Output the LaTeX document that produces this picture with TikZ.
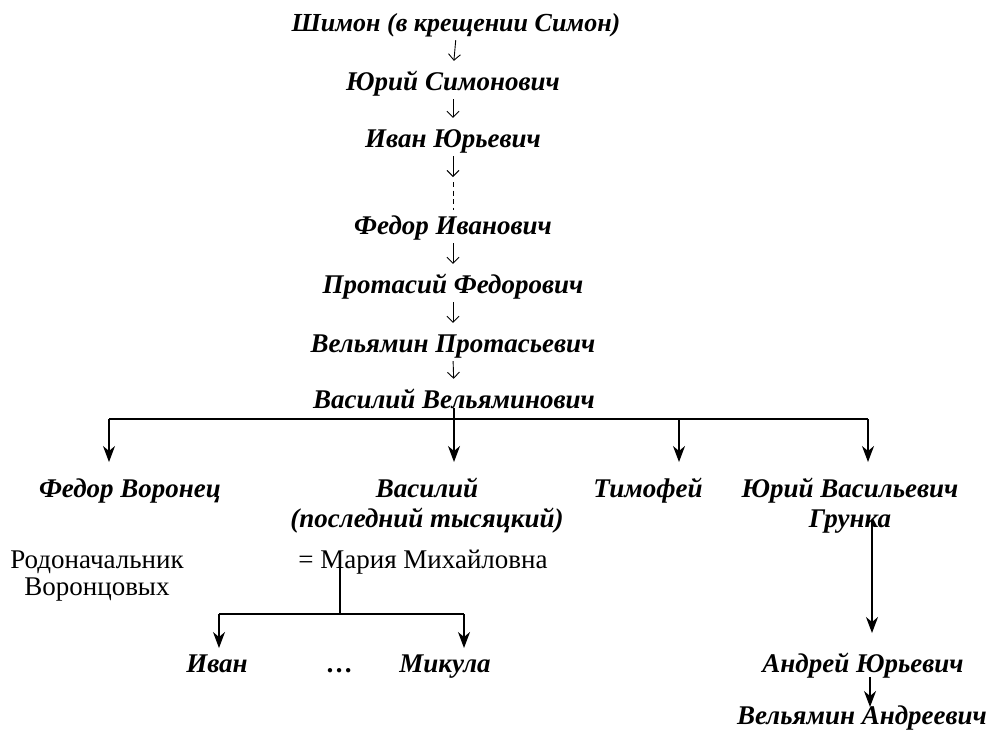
\documentclass[tikz,border=0pt]{standalone}
\usepackage{fontspec}
\setmainfont{Liberation Serif}
\usetikzlibrary{arrows.meta}
\newcommand\nmfont{\fontsize{27}{30}\selectfont\bfseries\itshape}
\newcommand\rgfont{\fontsize{27}{27}\selectfont}
\tikzset{
  person/.style={font=\nmfont, inner sep=0pt, text height=19pt, text depth=6pt, anchor=base},
  note/.style={font=\rgfont, inner sep=0pt, anchor=base},
  thinarr/.style={line width=0.9pt, -{Straight Barb[length=6pt,width=12pt,line width=0.9pt]}, shorten <=3pt, shorten >=10pt},
  bigarr/.style={line width=1.2pt, -{Stealth[length=16pt,width=12pt,inset=5pt]}},
  plain/.style={line width=1.2pt},
}
\begin{document}
\begin{tikzpicture}[x=1pt,y=-1pt]
\useasboundingbox (0,0) rectangle (990,729);
% main line
\node[person, font=\fontsize{26}{30}\selectfont\bfseries\itshape] (n1) at (456,31) {Шимон (в крещении Симон)};
\node[person] (n2) at (453,90) {Юрий Симонович};
\node[person] (n3) at (453,147) {Иван Юрьевич};
\node[person] (n4) at (453,234) {Федор Иванович};
\node[person] (n5) at (453,293) {Протасий Федорович};
\node[person] (n6) at (453,352) {Вельямин Протасьевич};
\node[person] (n7) at (454,408) {Василий Вельяминович};
\draw[thinarr] (n1.south) -- (n2.north);
\draw[thinarr] (n2.south) -- (n3.north);
\coordinate (mid) at (453,179);
\draw[thinarr, shorten >=2pt] (n3.south) -- (mid);
\draw[line width=0.9pt, dash pattern=on 5pt off 3.5pt, shorten <=3pt, shorten >=5pt] (mid) -- (n4.north);
\draw[thinarr] (n4.south) -- (n5.north);
\draw[thinarr] (n5.south) -- (n6.north);
\draw[thinarr] (n6.south) -- (n7.north);
% children
\node[person] (c1) at (130,497) {Федор Воронец};
\node[person] (c2) at (427,497) {\begin{tabular}[t]{@{}c@{}}Василий\\(последний тысяцкий)\end{tabular}};
\node[person] (c3) at (648,497) {Тимофей};
\node[person] (c4) at (850,497) {\begin{tabular}[t]{@{}c@{}}Юрий Васильевич\\Грунка\end{tabular}};
\coordinate (j1) at (109,419);
\coordinate (j3) at (679,419);
\coordinate (j4) at (868,419);
\coordinate (t1) at (109,462);
\coordinate (t2) at (454,462);
\coordinate (t3) at (679,462);
\coordinate (t4) at (868,462);
\draw[plain] (j1) -- (j4);
\draw[bigarr] (j1) -- (t1);
\draw[bigarr] (n7.base) -- (t2);
\draw[bigarr] (j3) -- (t3);
\draw[bigarr] (j4) -- (t4);
% notes
\node[note] (r1) at (97,568) {\begin{tabular}[t]{@{}c@{}}Родоначальник\\Воронцовых\end{tabular}};
\node[note] (w) at (423,568) {= Мария Михайловна};
% Vasily's sons
\node[person] (s1) at (217,672) {Иван};
\node[person] (s2) at (340,672) {…};
\node[person] (s3) at (445,672) {Микула};
\coordinate (m1) at (340,566);
\coordinate (m2) at (340,614);
\coordinate (k1) at (219,614);
\coordinate (k2) at (464,614);
\coordinate (u1) at (219,648);
\coordinate (u2) at (464,648);
\draw[plain] (m1) -- (m2);
\draw[plain] (k1) -- (k2);
\draw[bigarr] (k1) -- (u1);
\draw[bigarr] (k2) -- (u2);
% Yury Grunka line
\node[person] (a1) at (863,672) {Андрей Юрьевич};
\node[person] (a2) at (862,724) {Вельямин Андреевич};
\coordinate (g1) at (872,520);
\coordinate (g2) at (872,633);
\coordinate (h1) at (870,677);
\coordinate (h2) at (870,707);
\draw[bigarr] (g1) -- (g2);
\draw[bigarr] (h1) -- (h2);
\end{tikzpicture}
\end{document}
